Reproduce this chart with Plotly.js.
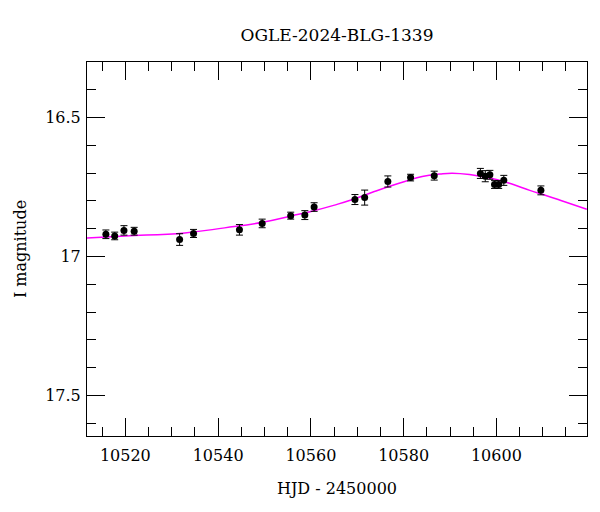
<!DOCTYPE html>
<html>
<head>
<meta charset="utf-8">
<script src="https://cdn.plot.ly/plotly-3.0.1.min.js"></script>
<style>html,body{margin:0;padding:0;background:#fff;}#chart{width:600px;height:512px;}</style>
</head>
<body>
<div id="chart"></div>
<script>
// Observed photometry (HJD - 2450000, I magnitude, error)
const obsHJD = [10515.8, 10517.7, 10519.7, 10521.9, 10531.7, 10534.7, 10544.6, 10549.5, 10555.65, 10558.7, 10560.7, 10569.5, 10571.6, 10576.6, 10581.5, 10586.6, 10596.55, 10597.6, 10598.6, 10599.6, 10600.5, 10601.6, 10609.6];
const obsMag = [16.920, 16.926, 16.906, 16.909, 16.939, 16.917, 16.904, 16.881, 16.853, 16.851, 16.822, 16.795, 16.788, 16.730, 16.716, 16.709, 16.701, 16.711, 16.706, 16.741, 16.741, 16.726, 16.762];
const obsErr = [0.0155, 0.0137, 0.017, 0.014, 0.021, 0.0145, 0.019, 0.0155, 0.0125, 0.016, 0.0155, 0.018, 0.027, 0.02, 0.012, 0.016, 0.018, 0.02, 0.016, 0.014, 0.014, 0.018, 0.016];

// Model curve
const modelHJD = [10511.7, 10520.0, 10532.8, 10541.4, 10549.3, 10555.8, 10560.0, 10565.1, 10569.0, 10573.4, 10577.0, 10580.6, 10584.0, 10587.8, 10590.5, 10594.2, 10600.0, 10603.5, 10607.2, 10611.0, 10614.4, 10619.5];
const modelMag = [16.933, 16.926, 16.915, 16.897, 16.878, 16.854, 16.838, 16.815, 16.795, 16.768, 16.747, 16.728, 16.712, 16.703, 16.700, 16.705, 16.723, 16.740, 16.762, 16.782, 16.801, 16.830];

const xTicks = [10520, 10540, 10560, 10580, 10600];
const yTicks = [16.5, 17, 17.5];
const yTickText = ['16.5', '17', '17.5'];

const FONT = 'DejaVu Serif, Liberation Serif, serif';

const traces = [
  {
    x: modelHJD, y: modelMag, type: 'scatter', mode: 'lines',
    line: {color: '#ff00ff', width: 1.5, shape: 'spline', smoothing: 1.3},
    hoverinfo: 'skip', showlegend: false
  },
  {
    x: obsHJD, y: obsMag, type: 'scatter', mode: 'markers',
    marker: {color: 'black', size: 7},
    error_y: {type: 'data', array: obsErr, visible: true, color: 'black', thickness: 1, width: 3.5},
    showlegend: false
  }
];

const axisCommon = {
  showgrid: false, zeroline: false, showline: true, linecolor: 'black', linewidth: 1,
  mirror: 'ticks', ticks: 'inside', ticklen: 18, tickwidth: 1, tickcolor: 'black',
  tickfont: {family: FONT, size: 16, color: 'black'}
};

const layout = {
  width: 600, height: 512,
  margin: {l: 87, r: 13, t: 62, b: 76, pad: 0},
  paper_bgcolor: 'white', plot_bgcolor: 'white',
  font: {family: FONT, color: 'black'},
  title: {text: 'OGLE-2024-BLG-1339', font: {family: FONT, size: 17, color: 'black'},
          xref: 'paper', x: 0.5, xanchor: 'center', yref: 'container', y: 0.932, yanchor: 'middle'},
  xaxis: Object.assign({}, axisCommon, {
    range: [10511.73, 10619.54],
    tickmode: 'array', tickvals: xTicks, ticktext: xTicks.map(String),
    ticklabelstandoff: 5,
    minor: {dtick: 5, tick0: 10520, ticks: 'inside', ticklen: 9, tickwidth: 1, tickcolor: 'black', showgrid: false},
    title: {text: 'HJD - 2450000', font: {family: FONT, size: 16, color: 'black'}, standoff: 18}
  }),
  yaxis: Object.assign({}, axisCommon, {
    range: [17.646, 16.300],
    tickmode: 'array', tickvals: yTicks, ticktext: yTickText,
    ticklabelstandoff: 2,
    minor: {dtick: 0.1, tick0: 16.5, ticks: 'inside', ticklen: 9, tickwidth: 1, tickcolor: 'black', showgrid: false},
    title: {text: 'I magnitude', font: {family: FONT, size: 16, color: 'black'}, standoff: 14}
  })
};

Plotly.newPlot('chart', traces, layout, {displayModeBar: false, staticPlot: true});
</script>
</body>
</html>
